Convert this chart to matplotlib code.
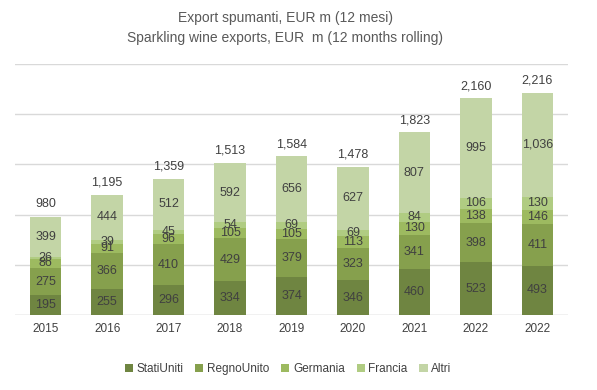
import numpy as np
import matplotlib.pyplot as plt

plt.rcParams['font.family'] = ['Liberation Sans', 'DejaVu Sans']

years = ["2015", "2016", "2017", "2018", "2019", "2020", "2021", "2022", "2022"]
stati_uniti = [195, 255, 296, 334, 374, 346, 460, 523, 493]
regno_unito = [275, 366, 410, 429, 379, 323, 341, 398, 411]
germania = [86, 91, 96, 105, 105, 113, 130, 138, 146]
francia = [26, 39, 45, 54, 69, 69, 84, 106, 130]
altri = [399, 444, 512, 592, 656, 627, 807, 995, 1036]
totali = [980, 1195, 1359, 1513, 1584, 1478, 1823, 2160, 2216]

series = [
    ("StatiUniti", stati_uniti, "#6f8541"),
    ("RegnoUnito", regno_unito, "#86a04d"),
    ("Germania", germania, "#9dba60"),
    ("Francia", francia, "#b0cc82"),
    ("Altri", altri, "#c3d5a6"),
]

fig = plt.figure(figsize=(5.97, 3.90), dpi=100)
ax = fig.add_axes([15 / 597, 1 - 315 / 390, 553 / 597, 251 / 390])

x = np.arange(len(years))
bottom = np.zeros(len(years))
txt = "#404040"
for name, vals, col in series:
    vals = np.array(vals, dtype=float)
    ax.bar(x, vals, 0.51, bottom=bottom, color=col, label=name, zorder=3)
    for xi, b, v in zip(x, bottom, vals):
        ax.text(xi, b + v / 2, f"{int(v):,}", ha="center", va="center",
                fontsize=9, color=txt, zorder=4)
    bottom += vals

for xi, b, t in zip(x, bottom, totali):
    ax.text(xi, b + 60, f"{t:,}", ha="center", va="bottom", fontsize=9, color=txt)

ax.set_xlim(-0.5, len(years) - 0.5)
ax.set_ylim(0, 2500)
ax.set_yticks(np.arange(0, 2501, 500))
ax.set_yticklabels([])
ax.tick_params(axis="y", length=0)
ax.tick_params(axis="x", length=0, labelsize=8.5, labelcolor=txt, pad=6)
ax.set_xticks(x)
ax.set_xticklabels(years)
ax.grid(axis="y", color="#d9d9d9", linewidth=1, zorder=0)
for s in ax.spines.values():
    s.set_visible(False)
ax.axhline(0, color="#d9d9d9", linewidth=1, zorder=2)

fig.text(285 / 597, 1 - 18 / 390, "Export spumanti, EUR m (12 mesi)", ha="center", va="center",
         fontsize=10, color="#595959")
fig.text(285 / 597, 1 - 38 / 390, "Sparkling wine exports, EUR  m (12 months rolling)", ha="center",
         va="center", fontsize=10, color="#595959")

fig.legend(loc="center", bbox_to_anchor=(288 / 597, 1 - 369 / 390), ncol=5, frameon=False,
           fontsize=8.5, labelcolor=txt, handlelength=0.7, handleheight=0.7,
           handletextpad=0.3, columnspacing=1.0)

fig.savefig("out.png", dpi=100)
